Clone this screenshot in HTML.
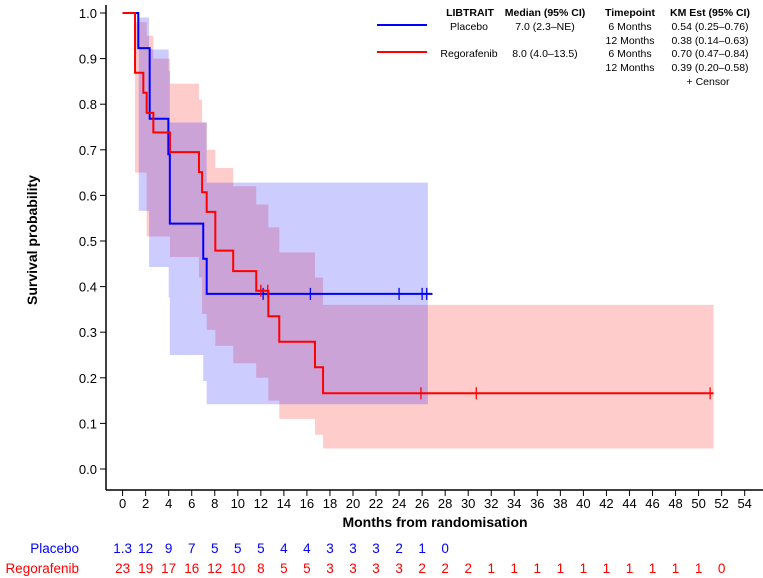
<!DOCTYPE html>
<html><head><meta charset="utf-8"><style>
body{margin:0;background:#fff;}
svg{display:block;font-family:"Liberation Sans",Arial,sans-serif;}
</style></head><body>
<svg id="chart" width="763" height="578" xmlns="http://www.w3.org/2000/svg">
<g id="bands"></g><g id="curves"></g><g id="axes"></g><g id="legend"></g><g id="risk"></g>
</svg>
<script>
const placeboTimes=[0,1.36,2.35,3.97,4.1,7.0,7.3];
const placeboSurv=[1,0.923,0.768,0.69,0.538,0.461,0.384];
const placeboEnd=26.9;
const placeboCensor=[12.2,16.3,24,26,26.4];
const placeboBandTimes=[1.4,2.3,4.0,4.1,7.0,7.3];
const placeboUpper=[0.99,0.92,0.873,0.76,0.76,0.628];
const placeboLower=[0.566,0.443,0.376,0.25,0.193,0.142];
const placeboBandEnd=26.5;

const regoTimes=[0,1.08,1.8,2.09,2.67,4.11,6.63,6.9,7.3,8.05,9.6,11.6,12.65,13.6,16.7,17.4];
const regoSurv=[1,0.869,0.825,0.781,0.738,0.695,0.651,0.607,0.564,0.479,0.434,0.391,0.335,0.279,0.223,0.166];
const regoEnd=51.3;
const regoCensor=[12.0,12.6,25.9,30.7,51.0];
const regoBandTimes=[1.08,2.09,2.67,4.11,6.63,6.9,7.3,8.05,9.6,11.6,12.65,13.6,16.7,17.4];
const regoUpper=[0.98,0.95,0.90,0.845,0.81,0.76,0.70,0.66,0.62,0.58,0.53,0.475,0.42,0.36];
const regoLower=[0.65,0.51,0.51,0.465,0.42,0.34,0.305,0.27,0.232,0.2,0.15,0.11,0.075,0.045];
const regoBandEnd=51.3;

const xTicks=[0,2,4,6,8,10,12,14,16,18,20,22,24,26,28,30,32,34,36,38,40,42,44,46,48,50,52,54];
const yTicks=[0,0.1,0.2,0.3,0.4,0.5,0.6,0.7,0.8,0.9,1.0];
const placeboRisk=["1.3","12","9","7","5","5","5","4","4","3","3","3","2","1","0"];
const regoRisk=["23","19","17","16","12","10","8","5","5","3","3","3","3","2","2","2","1","1","1","1","1","1","1","1","1","1","0"];

const NS="http://www.w3.org/2000/svg";
const X=t=>122.6+t*11.52;
const Y=v=>469-v*456;
function mk(tag,attrs,parent,text){const e=document.createElementNS(NS,tag);for(const k in attrs)e.setAttribute(k,attrs[k]);if(text!==undefined)e.textContent=text;parent.appendChild(e);return e;}
const bands=document.getElementById('bands'),curves=document.getElementById('curves'),axes=document.getElementById('axes'),legend=document.getElementById('legend'),risk=document.getElementById('risk');

function bandPath(times,up,lo,end){
  let d='';
  for(let i=0;i<times.length;i++){const t2=i<times.length-1?times[i+1]:end;d+=(i?'L':'M')+X(times[i])+','+Y(up[i])+'L'+X(t2)+','+Y(up[i]);}
  for(let i=times.length-1;i>=0;i--){const t2=i<times.length-1?times[i+1]:end;d+='L'+X(t2)+','+Y(lo[i])+'L'+X(times[i])+','+Y(lo[i]);}
  return d+'Z';
}
function stepPath(times,s,end){
  let d='M'+X(times[0])+','+Y(s[0]);
  for(let i=1;i<times.length;i++){d+='H'+X(times[i])+'V'+Y(s[i]);}
  return d+'H'+X(end);
}
function survAt(times,s,t){let v=s[0];for(let i=0;i<times.length;i++)if(times[i]<=t)v=s[i];return v;}

let e;
e=mk('path',{d:bandPath(regoBandTimes,regoUpper,regoLower,regoBandEnd),fill:'rgba(255,0,0,0.2)'},bands);

e=mk('path',{d:bandPath(placeboBandTimes,placeboUpper,placeboLower,placeboBandEnd),fill:'rgba(0,0,255,0.2)'},bands);


e=mk('path',{d:stepPath(placeboTimes,placeboSurv,placeboEnd),fill:'none',stroke:'#0000ff','stroke-width':2},curves);

placeboCensor.forEach(t=>{const y=Y(survAt(placeboTimes,placeboSurv,t));
 e=mk('line',{x1:X(t),x2:X(t),y1:y-6,y2:y+6,stroke:'#0000ff','stroke-width':1.3},curves);
 });
e=mk('path',{d:stepPath(regoTimes,regoSurv,regoEnd),fill:'none',stroke:'#ff0000','stroke-width':2},curves);

regoCensor.forEach(t=>{const y=Y(survAt(regoTimes,regoSurv,t));
 e=mk('line',{x1:X(t),x2:X(t),y1:y-6,y2:y+6,stroke:'#ff0000','stroke-width':1.3},curves);
 });

// axes
e=mk('line',{x1:106,x2:106,y1:5,y2:490,stroke:'#000','stroke-width':1.5},axes);

e=mk('line',{x1:106,x2:763,y1:490,y2:490,stroke:'#000','stroke-width':1.5},axes);

yTicks.forEach(v=>{
 e=mk('line',{x1:100,x2:106,y1:Y(v),y2:Y(v),stroke:'#000'},axes);
 
 e=mk('text',{x:97,y:Y(v)+5,'text-anchor':'end','font-size':13},axes,v.toFixed(1));
 
});
xTicks.forEach(t=>{
 e=mk('line',{x1:X(t),x2:X(t),y1:490,y2:496,stroke:'#000'},axes);
 
 e=mk('text',{x:X(t),y:508,'text-anchor':'middle','font-size':13},axes,String(t));
 
});
e=mk('text',{x:435,y:527,'text-anchor':'middle','font-size':14,'font-weight':'bold'},axes,'Months from randomisation');

e=mk('text',{x:0,y:0,transform:'translate(37,240) rotate(-90)','text-anchor':'middle','font-size':14,'font-weight':'bold'},axes,'Survival probability');


// legend
const lg=[[470,13,'LIBTRAIT',1],[545,13,'Median (95% CI)',1],[630,13,'Timepoint',1],[710,13,'KM Est (95% CI)',1],
[469,27,'Placebo'],[545,27,'7.0 (2.3–NE)'],[630,27,'6 Months'],[710,27,'0.54 (0.25–0.76)'],
[630,41,'12 Months'],[710,41,'0.38 (0.14–0.63)'],
[469,54,'Regorafenib'],[545,54,'8.0 (4.0–13.5)'],[630,54,'6 Months'],[710,54,'0.70 (0.47–0.84)'],
[630,68,'12 Months'],[710,68,'0.39 (0.20–0.58)'],[708,82,'+ Censor']];
lg.forEach(a=>{e=mk('text',{x:a[0],y:a[1]+3,'text-anchor':'middle','font-size':10.5,'font-weight':a[3]?'bold':'normal'},legend,a[2]);
 });
e=mk('line',{x1:377,x2:427,y1:25,y2:25,stroke:'#0000ff','stroke-width':2},legend);

e=mk('line',{x1:377,x2:427,y1:52,y2:52,stroke:'#ff0000','stroke-width':2},legend);


// risk table
e=mk('text',{x:79,y:553,'text-anchor':'end','font-size':13.5,fill:'#0000ff'},risk,'Placebo');

e=mk('text',{x:79,y:573,'text-anchor':'end','font-size':13.5,fill:'#ff0000'},risk,'Regorafenib');

placeboRisk.forEach((v,i)=>{e=mk('text',{x:X(i*2),y:553,'text-anchor':'middle','font-size':13.5,fill:'#0000ff'},risk,v);
 });
regoRisk.forEach((v,i)=>{e=mk('text',{x:X(i*2),y:573,'text-anchor':'middle','font-size':13.5,fill:'#ff0000'},risk,v);
 });
</script>
</body></html>
